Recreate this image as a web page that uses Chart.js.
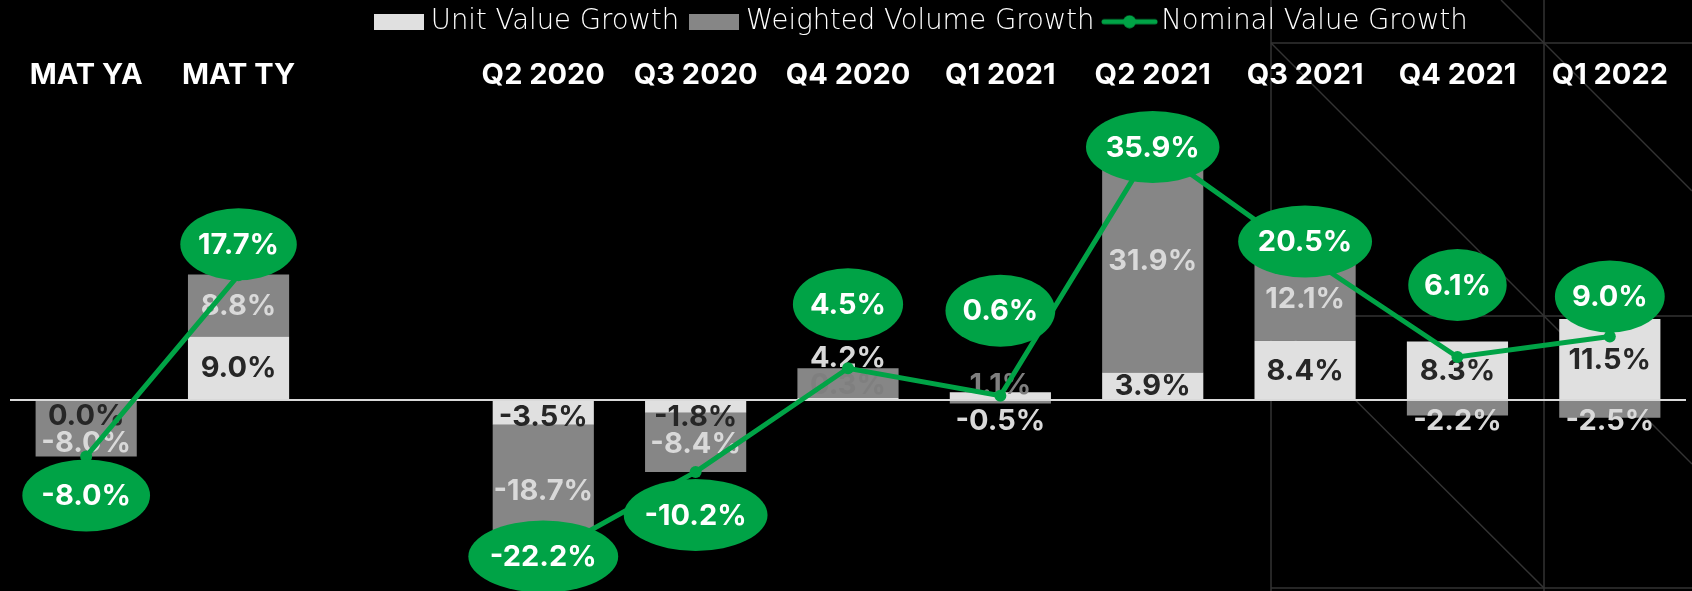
<!DOCTYPE html>
<html>
<head>
<meta charset="utf-8">
<script src="https://cdn.jsdelivr.net/npm/chart.js@4/dist/chart.umd.min.js"></script>
<style>
html,body{margin:0;padding:0;background:#000;}
#wrap{width:1692px;height:591px;position:relative;}
</style>
</head>
<body>
<div id="wrap"><canvas id="c"></canvas></div>
<script>
// ---- data ----
const categories = ['MAT YA', 'MAT TY', '', 'Q2 2020', 'Q3 2020', 'Q4 2020', 'Q1 2021', 'Q2 2021', 'Q3 2021', 'Q4 2021', 'Q1 2022'];
const unitValueGrowth = [0.0, 9.0, null, -3.5, -1.8, 0.3, 1.1, 3.9, 8.4, 8.3, 11.5];
const weightedVolumeGrowth = [-8.0, 8.8, null, -18.7, -8.4, 4.2, -0.5, 31.9, 12.1, -2.2, -2.5];
const nominalValueGrowth = [-8.0, 17.7, null, -22.2, -10.2, 4.5, 0.6, 35.9, 20.5, 6.1, 9.0];
const seriesNames = ['Unit Value Growth', 'Weighted Volume Growth', 'Nominal Value Growth'];

// ---- style ----
const GREEN = '#00A346';
const UNIT_COLOR = '#E0E0E0';
const VOL_COLOR = '#868686';
const DARK_TEXT = '#262626';
const LIGHT_TEXT = '#D9D9D9';
const FONT = 'Inter, "DejaVu Sans", sans-serif';
const LEGEND_FONT = '"DejaVu Sans", sans-serif';
const ZERO_Y = 400;       // pixel row of the zero line
const PX_PER_UNIT = 7.05; // vertical pixels per percentage point
// vertical shift (px) of each green callout relative to its point
const nominalLabelShift = [39, -31, 0, 0, 43, -64, -85, 0, -14, -72, -40];

const fmt = v => v.toFixed(1) + '%';

function boxIcon(color) {
  const c = document.createElement('canvas');
  c.width = 50; c.height = 16;
  const x = c.getContext('2d');
  x.fillStyle = color; x.fillRect(0, 0, 50, 16);
  return c;
}
function lineIcon(color) {
  const c = document.createElement('canvas');
  c.width = 57; c.height = 14;
  const x = c.getContext('2d');
  x.strokeStyle = color; x.lineWidth = 5; x.lineCap = 'round';
  x.beginPath(); x.moveTo(3, 7); x.lineTo(54, 7); x.stroke();
  x.fillStyle = color; x.beginPath(); x.arc(28.5, 7, 6.5, 0, Math.PI * 2); x.fill();
  return c;
}
const legendIcons = [boxIcon(UNIT_COLOR), boxIcon(VOL_COLOR), lineIcon(GREEN)];

const decorPlugin = {
  id: 'decor',
  beforeDraw(chart) {
    const ctx = chart.ctx;
    ctx.save();
    ctx.fillStyle = '#000';
    ctx.fillRect(0, 0, chart.width, chart.height);
    ctx.strokeStyle = '#333333';
    ctx.lineWidth = 1.5;
    const segs = [
      [1271, 0, 1271, 591], [1544, 0, 1544, 591],
      [1271, 43, 1692, 43], [1271, 316, 1692, 316], [1271, 588, 1692, 588],
      [1271, 43, 1544, 316], [1271, 316, 1544, 588],
      [1544, 43, 1692, 191], [1544, 316, 1692, 464], [1501, 0, 1544, 43]
    ];
    segs.forEach(s => { ctx.beginPath(); ctx.moveTo(s[0], s[1]); ctx.lineTo(s[2], s[3]); ctx.stroke(); });
    ctx.restore();
  },
  afterLayout(chart) {
    const lg = chart.legend;
    if (lg) { lg.left = 364; lg.right = 2200; lg.top -= 9; lg.bottom -= 9; }
  }
};

const barLabelPlugin = {
  id: 'barLabels',
  beforeDatasetDraw(chart, args) {
    if (args.index !== 2) return;
    const ctx = chart.ctx;
    const mu = chart.getDatasetMeta(0), mv = chart.getDatasetMeta(1);
    ctx.save();
    ctx.font = 'bold 29px ' + FONT;
    ctx.textAlign = 'center';
    ctx.textBaseline = 'middle';
    const PUSH = 15, GAP = 27, MIN_H = 24;
    const dirOf = (val, other) => val > 0 ? -1 : val < 0 ? 1 : (other > 0 ? -1 : 1);
    for (let i = 0; i < categories.length; i++) {
      const u = unitValueGrowth[i], v = weightedVolumeGrowth[i];
      if (u == null || v == null) continue;
      const eu = mu.data[i], ev = mv.data[i];
      const su = dirOf(u, v), sv = dirOf(v, u);
      const hu = Math.abs(eu.base - eu.y), hv = Math.abs(ev.base - ev.y);
      let yu = (eu.y + eu.base) / 2, yv = (ev.y + ev.base) / 2;
      const pushedU = hu < MIN_H, pushedV = hv < MIN_H;
      if (pushedU) yu = eu.base + su * PUSH;
      if (pushedV) yv = ev.base + sv * (PUSH + 4);
      if (su === sv && Math.abs(yv - yu) < GAP) yv = yu + sv * GAP;
      const covered = su === sv && hv >= 2 * PUSH;
      ctx.fillStyle = (!pushedU || covered) ? DARK_TEXT : '#7F7F7F';
      ctx.fillText(fmt(u), eu.x, yu + 1);
      ctx.fillStyle = LIGHT_TEXT;
      ctx.fillText(fmt(v), ev.x, yv + 1);
    }
    ctx.restore();
  }
};

const calloutPlugin = {
  id: 'callouts',
  afterDatasetsDraw(chart) {
    const ctx = chart.ctx;
    const meta = chart.getDatasetMeta(2);
    ctx.save();
    ctx.font = 'bold 29px ' + FONT;
    ctx.textAlign = 'center';
    ctx.textBaseline = 'middle';
    meta.data.forEach((pt, i) => {
      const val = nominalValueGrowth[i];
      if (val == null) return;
      const cx = pt.x, cy = pt.y + nominalLabelShift[i];
      const txt = fmt(val);
      const w = ctx.measureText(txt).width;
      const rx = 0.645 * w + 6, ry = 36;
      ctx.beginPath();
      ctx.ellipse(cx, cy, rx, ry, 0, 0, Math.PI * 2);
      ctx.fillStyle = GREEN;
      ctx.fill();
      ctx.fillStyle = '#FFFFFF';
      ctx.fillText(txt, cx, cy + 1);
    });
    ctx.restore();
  }
};

function make() {
  const chart = new Chart(document.getElementById('c'), {
    data: {
      labels: categories,
      datasets: [
        { type: 'bar', label: seriesNames[0], data: unitValueGrowth, backgroundColor: UNIT_COLOR, order: 1, stack: 's' },
        { type: 'bar', label: seriesNames[1], data: weightedVolumeGrowth, backgroundColor: VOL_COLOR, order: 1, stack: 's' },
        { type: 'line', label: seriesNames[2], data: nominalValueGrowth, borderColor: GREEN, backgroundColor: GREEN,
          borderWidth: 5, pointRadius: 6, pointBackgroundColor: GREEN, pointBorderWidth: 0, spanGaps: false, order: 0, tension: 0 }
      ]
    },
    options: {
      responsive: true,
      maintainAspectRatio: false,
      animation: false,
      devicePixelRatio: 1,
      layout: { padding: { left: 10, right: 5, top: 0, bottom: 0 } },
      datasets: { bar: { categoryPercentage: 0.664, barPercentage: 1 } },
      scales: {
        x: {
          position: 'top',
          stacked: true,
          grid: { display: false, drawTicks: false },
          border: { display: false },
          ticks: { color: '#FFFFFF', font: { family: FONT, size: 29, weight: 'bold' }, padding: 20, maxRotation: 0, autoSkip: false },
          afterFit: s => { s.height = 58; }
        },
        y: {
          stacked: true,
          min: -27.1, max: 41.6,
          grid: {
            drawTicks: false,
            color: c => c.tick && c.tick.value === 0 ? '#D9D9D9' : 'rgba(0,0,0,0)',
            lineWidth: 2
          },
          border: { display: false },
          ticks: { display: false, stepSize: 1 }
        }
      },
      plugins: {
        tooltip: { enabled: false },
        legend: {
          position: 'top',
          align: 'start',
          labels: {
            usePointStyle: true,
            pointStyleWidth: 36,
            padding: 17,
            color: '#FFFFFF',
            font: { family: LEGEND_FONT, size: 27.5, weight: 200 },
            generateLabels: chart => chart.data.datasets.map((ds, i) => ({
              text: ds.label, pointStyle: legendIcons[i], fillStyle: 'rgba(0,0,0,0)', strokeStyle: 'rgba(0,0,0,0)',
              lineWidth: 0, hidden: false, datasetIndex: i, fontColor: '#FFFFFF'
            }))
          }
        }
      }
    },
    plugins: [decorPlugin, barLabelPlugin, calloutPlugin]
  });
  // fit the value range so that zero sits on ZERO_Y with PX_PER_UNIT scaling
  const ca = chart.chartArea;
  chart.options.scales.y.min = -(ca.bottom - ZERO_Y) / PX_PER_UNIT;
  chart.options.scales.y.max = (ZERO_Y - ca.top) / PX_PER_UNIT;
  chart.update();
}

Promise.all([
  document.fonts.load('bold 29px Inter'),
  document.fonts.load('200 27.5px "DejaVu Sans"')
]).then(make, make);
</script>
</body>
</html>
